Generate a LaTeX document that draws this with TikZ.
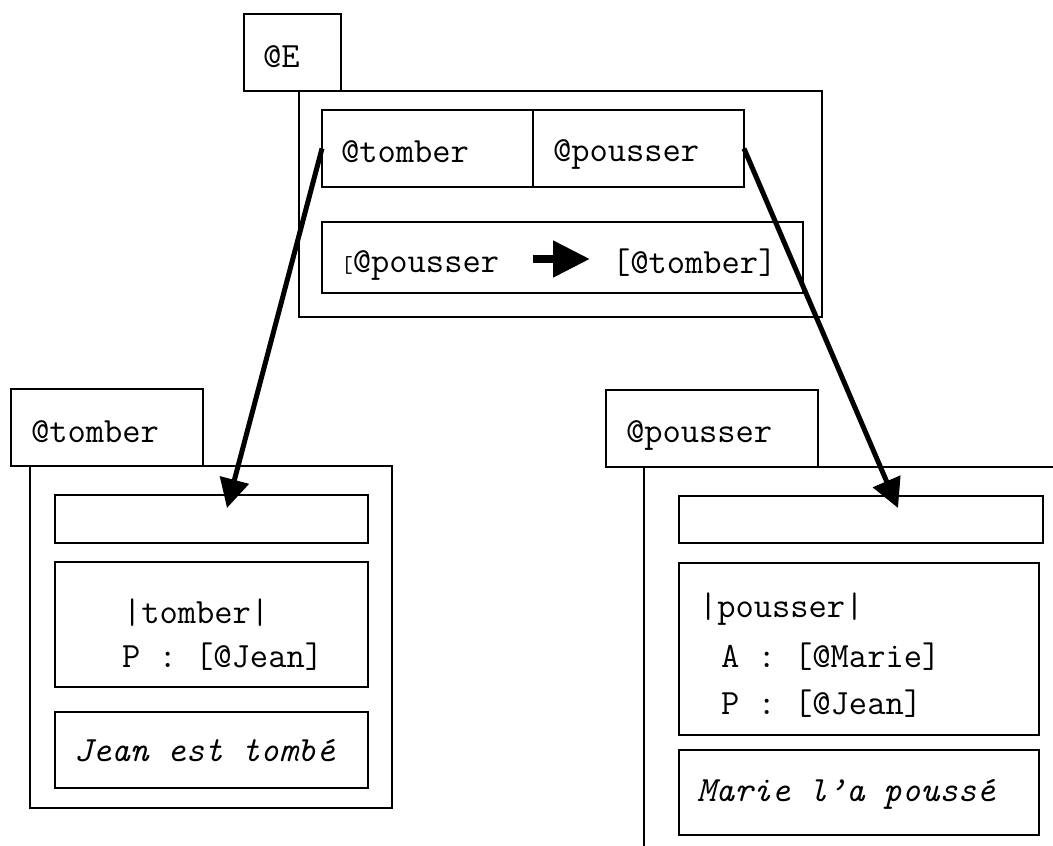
\documentclass[tikz,border=0pt]{standalone}
\usepackage{fontspec}
\usetikzlibrary{arrows.meta}
\begin{document}
\begin{tikzpicture}[x=1pt,y=-1pt,
  box/.style={draw,line width=1.6pt,inner sep=0pt,outer sep=0pt,anchor=north west},
  txt/.style={inner sep=0pt,outer sep=0pt,anchor=base west,font=\ttfamily\fontsize{35.5}{40}\selectfont},
  itxt/.style={txt,font=\ttfamily\itshape\fontsize{35.5}{40}\selectfont},
  bigarrow/.style={line width=5pt,-{Triangle[length=29pt,width=29pt]}},
  fatarrow/.style={line width=8pt,-{Triangle[length=37pt,width=35pt]}}]
\fill[white] (0,0) rectangle (1053,846);
\useasboundingbox (0,0) rectangle (1053,846);
% top structure
\node[box,minimum width=97pt,minimum height=77pt] (Ebox) at (244,14) {};
\node[txt] (Etxt) at (263,67) {@E};
\node[box,minimum width=523pt,minimum height=226pt] (Eouter) at (299,91) {};
\node[box,minimum width=211pt,minimum height=77pt] (celltomber) at (322,110) {};
\node[box,minimum width=211pt,minimum height=77pt] (cellpousser) at (533,110) {};
\node[txt] (ctomber) at (341,162) {@tomber};
\node[txt] (cpousser) at (553,161) {@pousser};
\node[box,minimum width=481pt,minimum height=71pt] (relbox) at (322,222) {};
\node[txt] (relA) at (341,272) {{\fontsize{23}{27}\selectfont[}@pousser};
\node[txt] (relB) at (612,273) {[@tomber]};
\coordinate (ia) at (533,259);
\coordinate (ib) at (590,259);
\draw[fatarrow] (ia) -- (ib);
% left structure
\node[box,minimum width=192pt,minimum height=77pt] (Tlabel) at (11,389) {};
\node[txt] (Tlabeltxt) at (31,442) {@tomber};
\node[box,minimum width=362pt,minimum height=342pt] (Touter) at (30,466) {};
\node[box,minimum width=313pt,minimum height=48pt] (Tb1) at (55,495) {};
\node[box,minimum width=313pt,minimum height=125pt] (Tb2) at (55,562) {};
\node[box,minimum width=313pt,minimum height=76pt] (Tb3) at (55,712) {};
\node[txt] (Tlex) at (123,623) {|tomber|};
\node[txt] (TP) at (122,667) {P : [@Jean]};
\node[itxt] (Tsent) at (74,761) {Jean est tombé};
% right structure
\node[box,minimum width=212pt,minimum height=77pt] (Plabel) at (606,390) {};
\node[txt] (Plabeltxt) at (626,442) {@pousser};
\coordinate (Pc1) at (644,846);
\coordinate (Pc2) at (644,467);
\coordinate (Pc3) at (1053,467);
\draw[line width=1.6pt] (Pc1) -- (Pc2) -- (Pc3);
\node[box,minimum width=364pt,minimum height=47pt] (Pb1) at (679,496) {};
\node[box,minimum width=360pt,minimum height=172pt] (Pb2) at (679,563) {};
\node[box,minimum width=360pt,minimum height=85pt] (Pb3) at (679,750) {};
\node[txt] (Plex) at (699,617) {|pousser|};
\node[txt] (PA) at (721,667) {A : [@Marie]};
\node[txt] (PP) at (721,714) {P : [@Jean]};
\node[itxt] (Psent) at (697,801) {Marie l’a poussé};
% connectors
\coordinate (tipL) at (227,508);
\coordinate (tipR) at (898,508);
\draw[bigarrow] (celltomber.west) -- (tipL);
\draw[bigarrow] (cellpousser.east) -- (tipR);
\end{tikzpicture}
\end{document}
